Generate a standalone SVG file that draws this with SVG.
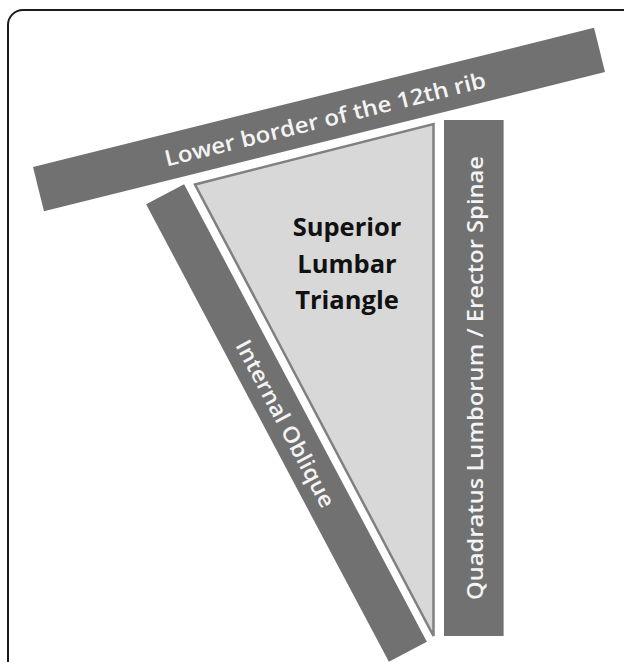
<svg xmlns="http://www.w3.org/2000/svg" width="624" height="662" viewBox="0 0 624 662">
  <style>
    .band { fill: #717171; }
    .blabel { fill: #f4f4f4; font-family: "Open Sans", "Liberation Sans", sans-serif; font-size: 22px; font-weight: 600; text-anchor: middle; dominant-baseline: central; }
    .tri { fill: #d8d8d8; stroke: #808080; stroke-width: 2.5; stroke-linejoin: miter; }
    .title { fill: #111; font-family: "Open Sans", "Liberation Sans", sans-serif; font-size: 25.5px; font-weight: bold; text-anchor: middle; }
  </style>
  <rect width="624" height="662" fill="#ffffff"/>
  <path d="M 8 662 V 25 A 15 15 0 0 1 23 10 H 624" fill="none" stroke="#1a1a1a" stroke-width="2"/>

  <g id="triangle">
    <polygon class="tri" points="195,184.5 433.5,124 433.5,636"/>
    <text class="title" x="347" y="236">Superior</text>
    <text class="title" x="347" y="273">Lumbar</text>
    <text class="title" x="347" y="309">Triangle</text>
  </g>

  <g id="rib" transform="translate(319,119.5) rotate(-13.92)">
    <rect class="band" x="-289" y="-22.8" width="578" height="45.6"/>
    <text class="blabel" x="6" y="0" textLength="330" lengthAdjust="spacingAndGlyphs">Lower border of the 12th rib</text>
  </g>

  <g id="internal-oblique" transform="translate(286.5,423) rotate(62.05)">
    <rect class="band" x="-259" y="-21.5" width="518" height="43"/>
    <text class="blabel" x="0" y="0" textLength="186" lengthAdjust="spacingAndGlyphs">Internal Oblique</text>
  </g>

  <g id="quadratus" transform="translate(473.8,378) rotate(-90)">
    <rect class="band" x="-258" y="-29.8" width="516" height="59.6"/>
    <text class="blabel" x="0" y="0" font-size="23" textLength="444" lengthAdjust="spacingAndGlyphs">Quadratus Lumborum / Erector Spinae</text>
  </g>

  <g id="connectors"></g>
</svg>
